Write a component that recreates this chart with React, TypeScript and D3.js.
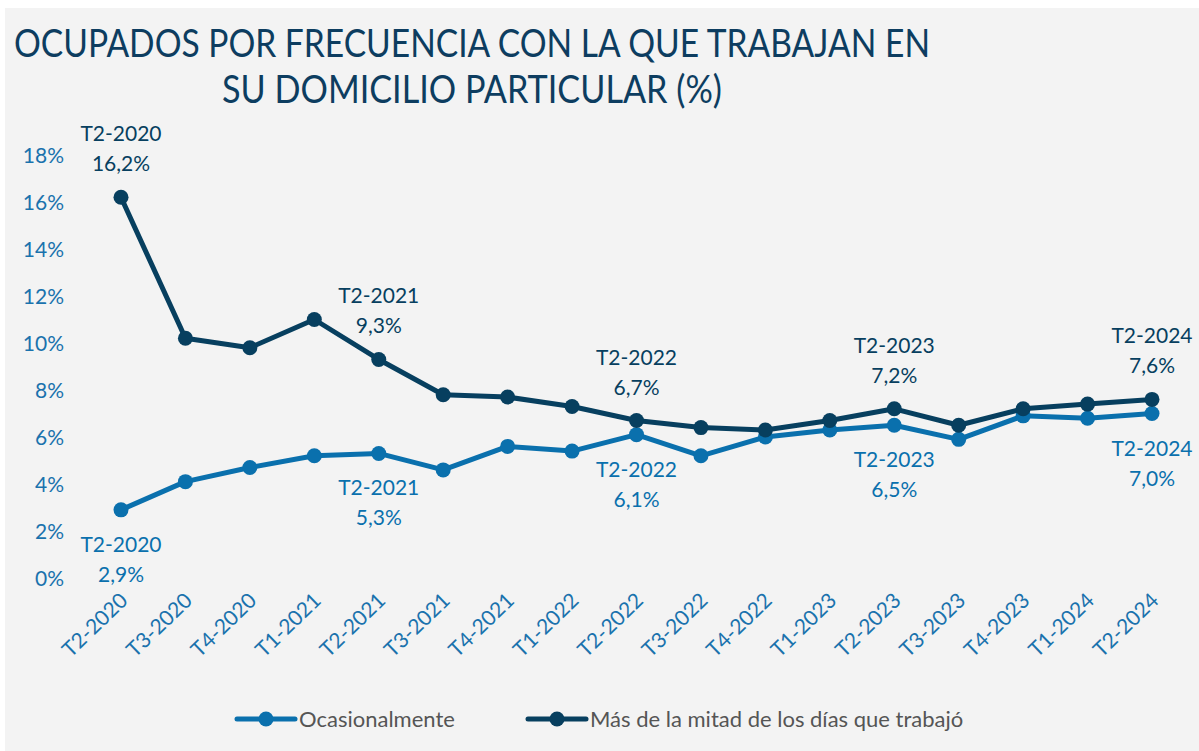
import React from "react";
import * as d3 from "d3";

const categories = [
  "T2-2020", "T3-2020", "T4-2020", "T1-2021", "T2-2021", "T3-2021", "T4-2021", "T1-2022", "T2-2022",
  "T3-2022", "T4-2022", "T1-2023", "T2-2023", "T3-2023", "T4-2023", "T1-2024", "T2-2024",
];

const ocasionalmente = [2.9, 4.1, 4.7, 5.2, 5.3, 4.6, 5.6, 5.4, 6.1, 5.2, 6.0, 6.3, 6.5, 5.9, 6.9, 6.8, 7.0];
const masDeLaMitad = [16.2, 10.2, 9.8, 11.0, 9.3, 7.8, 7.7, 7.3, 6.7, 6.4, 6.3, 6.7, 7.2, 6.5, 7.2, 7.4, 7.6];

const yTicks = [0, 2, 4, 6, 8, 10, 12, 14, 16, 18];
const labelled = ["T2-2020", "T2-2021", "T2-2022", "T2-2023", "T2-2024"];

const title = ["OCUPADOS POR FRECUENCIA CON LA QUE TRABAJAN EN", "SU DOMICILIO PARTICULAR (%)"];
const titleWidths = [916, 500];
const seriesNames = ["Ocasionalmente", "Más de la mitad de los días que trabajó"];

const LIGHT = "#0a70ad";
const DARK = "#073f5f";
const FONT = "Lato, 'Open Sans', sans-serif";

const fmt = (v: number) => v.toFixed(1).replace(".", ",") + "%";

export default function App() {
  const width = 1199;
  const height = 751;

  const x = d3.scalePoint<string>().domain(categories).range([121, 1152]);
  const y = d3.scaleLinear().domain([0, 18]).range([578, 155]);

  const line = d3
    .line<number>()
    .x((_, i) => x(categories[i]) as number)
    .y((d) => y(d));

  const series = [
    { name: seriesNames[0], values: ocasionalmente, color: LIGHT, above: false },
    { name: seriesNames[1], values: masDeLaMitad, color: DARK, above: true },
  ];

  return (
    <svg
      width={width}
      height={height}
      style={{ position: "absolute", left: 0, top: 0, fontFamily: FONT }}
    >
      <rect x={5} y={8} width={width - 5} height={height - 8} fill="#f3f3f3" />

      {/* title, squeezed to the reference width */}
      {title.map((t, i) => (
        <text
          key={t}
          x={472 - titleWidths[i] / 2}
          y={57 + i * 46}
          fontSize={39}
          fill="#0d3d60"
          textLength={titleWidths[i]}
          lengthAdjust="spacingAndGlyphs"
        >
          {t}
        </text>
      ))}

      {/* y axis labels */}
      {yTicks.map((t) => (
        <text key={t} x={64} y={y(t) + 8} textAnchor="end" fontSize={21} fill="#1a72ad">
          {t}%
        </text>
      ))}

      {/* x axis labels */}
      {categories.map((c) => (
        <text
          key={c}
          transform={`translate(${(x(c) as number) + 8},${602}) rotate(-44)`}
          textAnchor="end"
          fontSize={21}
          fill="#1a72ad"
        >
          {c}
        </text>
      ))}

      {/* lines */}
      {series.map((s) => (
        <g key={s.name}>
          <path d={line(s.values) || ""} fill="none" stroke={s.color} strokeWidth={5} strokeLinejoin="round" />
          {s.values.map((v, i) => (
            <circle key={i} cx={x(categories[i])} cy={y(v)} r={7.5} fill={s.color} />
          ))}
        </g>
      ))}

      {/* point labels */}
      {series.map((s) =>
        s.values.map((v, i) => {
          const c = categories[i];
          if (!labelled.includes(c)) return null;
          const cx = x(c) as number;
          const cy = y(v);
          const y1 = s.above ? cy - 56 : cy + 42;
          return (
            <text key={s.name + c} x={cx} textAnchor="middle" fontSize={21} fill={s.color}>
              <tspan x={cx} y={y1}>{c}</tspan>
              <tspan x={cx} y={y1 + 30}>{fmt(v)}</tspan>
            </text>
          );
        })
      )}

      {/* legend */}
      {series.map((s, i) => {
        const lx = i === 0 ? 237 : 528;
        return (
          <g key={"leg" + s.name}>
            <line x1={lx} x2={lx + 58} y1={719} y2={719} stroke={s.color} strokeWidth={5} strokeLinecap="round" />
            <circle cx={lx + 29} cy={719} r={7.5} fill={s.color} />
            <text x={lx + 62} y={727} fontSize={22} fill="#555555">
              {s.name}
            </text>
          </g>
        );
      })}
    </svg>
  );
}
